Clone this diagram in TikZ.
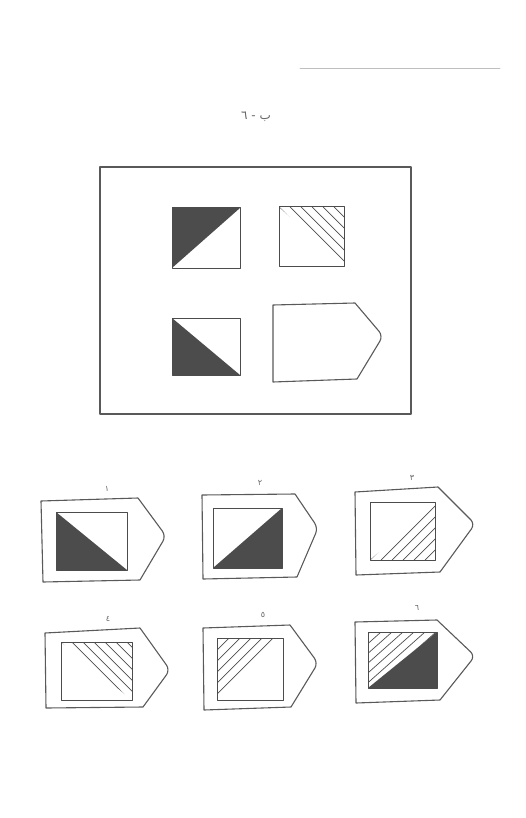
\documentclass[tikz,border=0pt]{standalone}
\usepackage{fontspec}
\newfontfamily\arabicfont[Script=Arabic]{DejaVu Sans}
\TeXXeTstate=1
\usepackage{tikz}
\tikzset{
  every picture/.style={line join=round, line cap=round},
  frame/.style={draw=black!65, line width=1.1pt},
  box/.style={draw=black!70, line width=1pt},
  dark/.style={fill=black!70},
  hatch/.style={draw=black!70, line width=0.7pt},
  numlabel/.style={text=black!60, font=\arabicfont\footnotesize, inner sep=1pt},
}

\begin{document}
\begin{tikzpicture}[x=1pt,y=-1pt]
\useasboundingbox (0,0) rectangle (525,818);
% faint scan line at the top
\draw[black!25, line width=0.8pt] (300,68) -- (500,68);
\node[text=black!60, font=\arabicfont\large] (title) at (256,117) {\beginR ب\ -\ ٦\endR};
% question frame
\draw[frame] (100,167) rectangle (411,414);
% top left: dark upper triangle
\fill[dark] (172,208) -- (240,208) -- (172,268) -- cycle;
\draw[box] (172,208) rectangle (240,268);
% top right: hatched upper triangle
\begin{scope}
\clip (279,207) -- (344,207) -- (344,266) -- cycle;
\foreach \t in {0,11,...,77} \draw[hatch] (279+\t,207) -- (359+\t,287);
\end{scope}
\draw[box] (279,207) rectangle (344,266);
% bottom left: dark lower triangle
\fill[dark] (172,318) -- (240,375) -- (172,375) -- cycle;
\draw[box] (172,318) rectangle (240,375);
% empty tag
\draw[frame] (273,305) -- (355,303) [rounded corners=6pt] -- (383,336) [sharp corners] -- (357,379) -- (273,382) -- cycle;

% answers, first row
\node[numlabel] (n1) at (107,489) {١};
\draw[frame] (41,501) -- (138,498) [rounded corners=6pt] -- (166,536) [sharp corners] -- (140,580) -- (43,582) -- cycle;
\fill[dark] (56,512) -- (127,570) -- (56,570) -- cycle;
\draw[box] (56,512) rectangle (127,570);

\node[numlabel] (n2) at (260,483) {٢};
\draw[frame] (202,495) -- (295,494) [rounded corners=6pt] -- (318,528) [sharp corners] -- (297,577) -- (203,579) -- cycle;
\fill[dark] (282,508) -- (282,568) -- (213,568) -- cycle;
\draw[box] (213,508) rectangle (282,568);

\node[numlabel] (n3) at (412,478) {٣};
\draw[frame] (355,492) -- (438,487) [rounded corners=6pt] -- (475,524) [sharp corners] -- (440,572) -- (356,575) -- cycle;
\begin{scope}
\clip (435,502) -- (435,560) -- (370,560) -- cycle;
\foreach \t in {0,11,...,77} \draw[hatch] (370+\t,560) -- (440+\t,490);
\end{scope}
\draw[box] (370,502) rectangle (435,560);

% answers, second row
\node[numlabel] (n4) at (108,619) {٤};
\draw[frame] (45,633) -- (140,628) [rounded corners=6pt] -- (170,670) [sharp corners] -- (143,707) -- (46,708) -- cycle;
\begin{scope}
\clip (61,642) -- (132,642) -- (132,700) -- cycle;
\foreach \t in {0,11,...,88} \draw[hatch] (61+\t,642) -- (141+\t,722);
\end{scope}
\draw[box] (61,642) rectangle (132,700);

\node[numlabel] (n5) at (263,615) {٥};
\draw[frame] (203,628) -- (290,625) [rounded corners=6pt] -- (318,663) [sharp corners] -- (291,707) -- (204,710) -- cycle;
\begin{scope}
\clip (217,638) -- (283,638) -- (217,700) -- cycle;
\foreach \t in {0,11,...,77} \draw[hatch] (217+\t-72,700) -- (217+\t,628);
\end{scope}
\draw[box] (217,638) rectangle (283,700);

\node[numlabel] (n6) at (417,608) {٦};
\draw[frame] (355,622) -- (437,620) [rounded corners=6pt] -- (475,656) [sharp corners] -- (440,700) -- (356,703) -- cycle;
\fill[dark] (437,632) -- (437,688) -- (368,688) -- cycle;
\begin{scope}
\clip (368,632) -- (437,632) -- (368,688) -- cycle;
\foreach \t in {0,11,...,77} \draw[hatch] (368+\t-72,688) -- (368+\t,624);
\end{scope}
\draw[box] (368,632) rectangle (437,688);
\end{tikzpicture}
\end{document}
